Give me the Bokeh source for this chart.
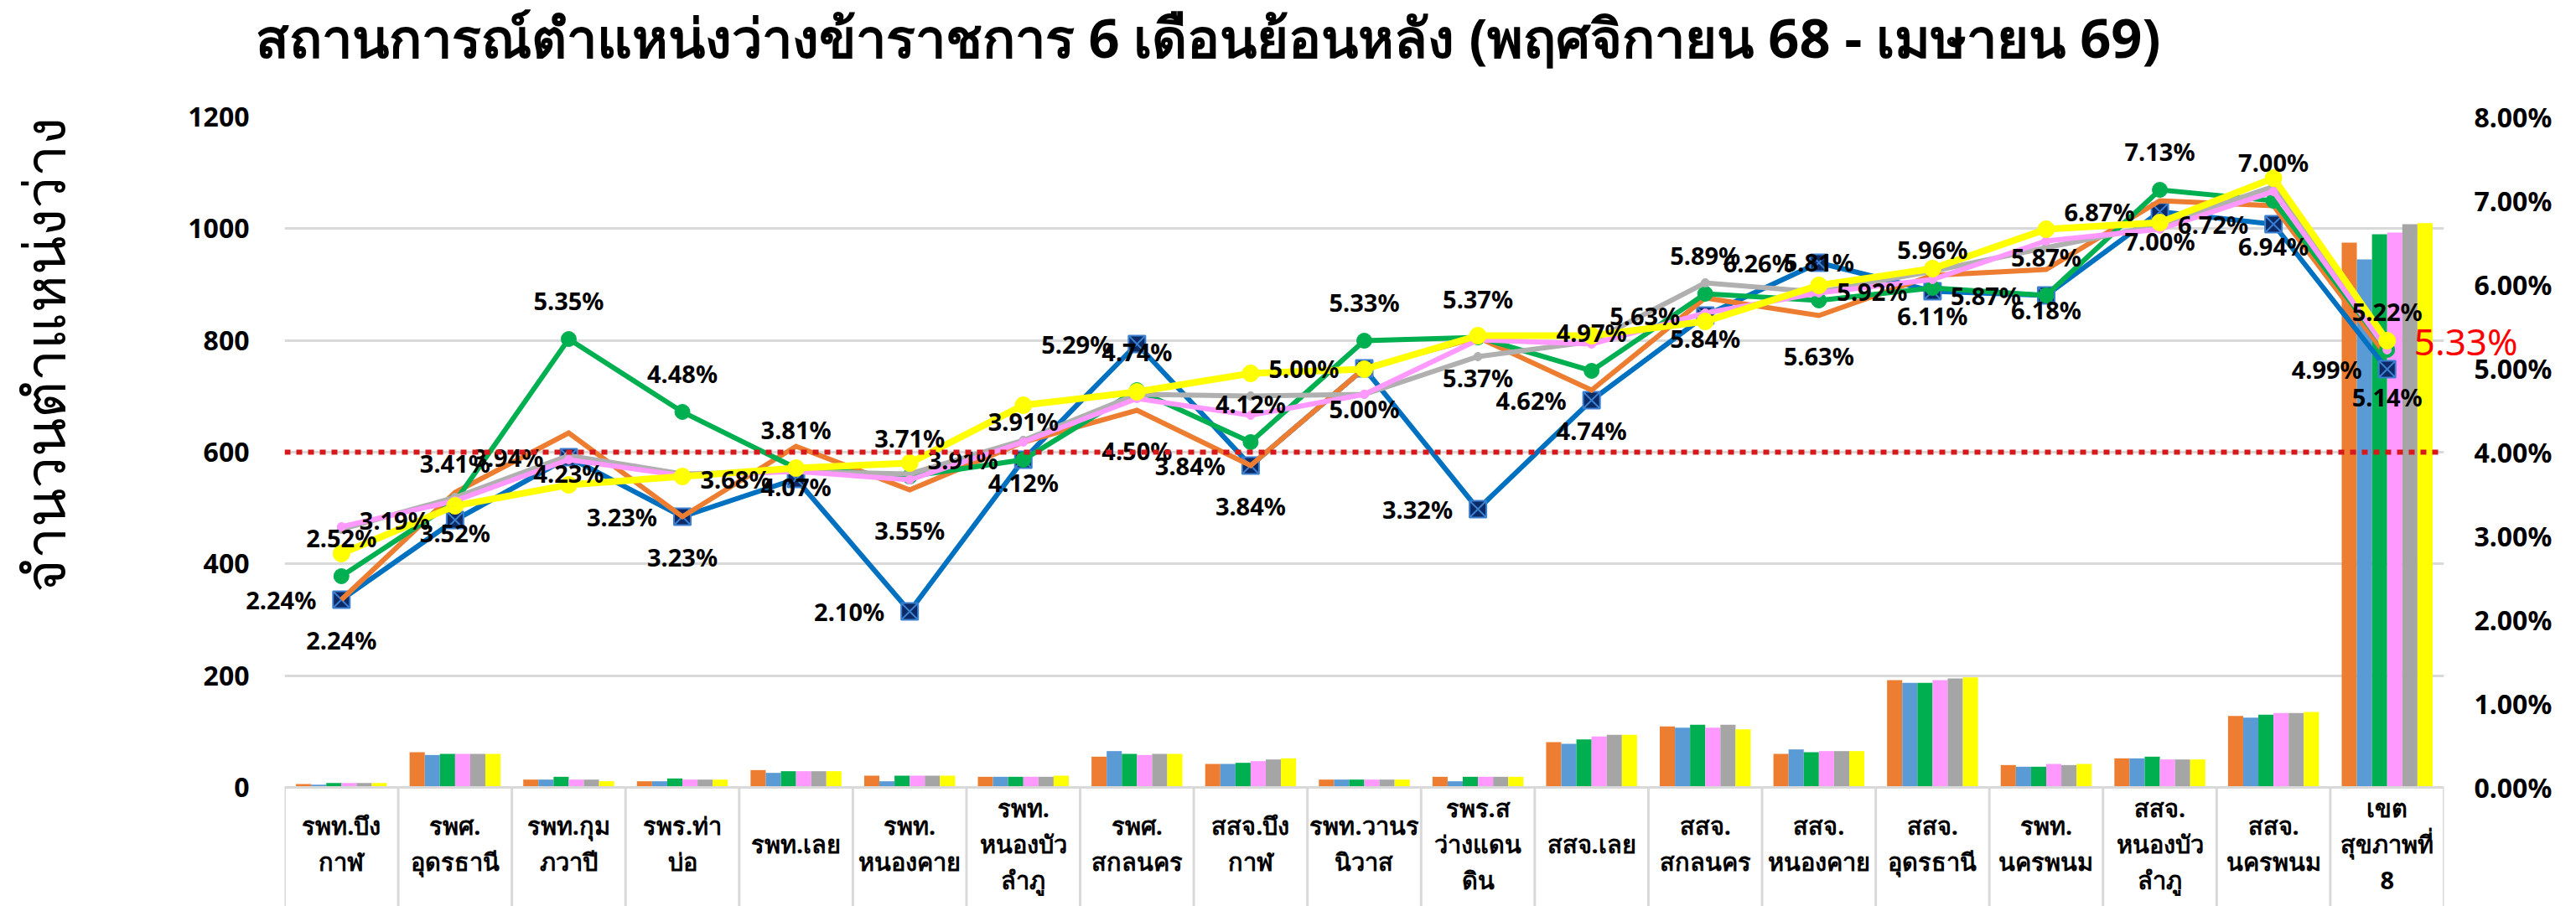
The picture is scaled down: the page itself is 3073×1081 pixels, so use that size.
from bokeh.plotting import figure
from bokeh.models import (Range1d, LinearAxis, FixedTicker, LabelSet,
                          PrintfTickFormatter, Span, Label, Title, ColumnDataSource)
from bokeh.transform import dodge
from bokeh.core.properties import value
from bokeh.embed import file_html
from bokeh.resources import INLINE

# ---------------- data ----------------
categories = ["รพท.บึงกาฬ", "รพศ.อุดรธานี", "รพท.กุมภวาปี", "รพร.ท่าบ่อ", "รพท.เลย",
              "รพท.หนองคาย", "รพท.หนองบัวลำภู", "รพศ.สกลนคร", "สสจ.บึงกาฬ",
              "รพท.วานรนิวาส", "รพร.สว่างแดนดิน", "สสจ.เลย", "สสจ.สกลนคร",
              "สสจ.หนองคาย", "สสจ.อุดรธานี", "รพท.นครพนม", "สสจ.หนองบัวลำภู",
              "สสจ.นครพนม", "เขตสุขภาพที่ 8"]
category_labels = ["รพท.บึง\nกาฬ", "รพศ.\nอุดรธานี", "รพท.กุม\nภวาปี", "รพร.ท่า\nบ่อ",
                   "รพท.เลย", "รพท.\nหนองคาย", "รพท.\nหนองบัว\nลำภู", "รพศ.\nสกลนคร",
                   "สสจ.บึง\nกาฬ", "รพท.วานร\nนิวาส", "รพร.ส\nว่างแดน\nดิน", "สสจ.เลย",
                   "สสจ.\nสกลนคร", "สสจ.\nหนองคาย", "สสจ.\nอุดรธานี", "รพท.\nนครพนม",
                   "สสจ.\nหนองบัว\nลำภู", "สสจ.\nนครพนม", "เขต\nสุขภาพที่\n8"]

# vacancies (bars, left axis)
bar_orange = [6, 63, 14, 11, 31, 21, 19, 55, 42, 14, 19, 81, 109, 60, 192, 40, 52, 128, 975]
bar_blue   = [5, 58, 14, 11, 26, 11, 19, 65, 42, 14, 11, 78, 107, 68, 187, 37, 52, 125, 945]
bar_green  = [8, 60, 19, 16, 29, 21, 19, 60, 44, 14, 19, 86, 112, 63, 187, 37, 55, 130, 990]
bar_pink   = [8, 60, 14, 14, 29, 21, 19, 58, 47, 14, 19, 91, 107, 65, 192, 42, 50, 133, 993]
bar_grey   = [8, 60, 14, 14, 29, 21, 19, 60, 50, 14, 19, 94, 112, 65, 195, 40, 50, 133, 1008]
bar_yellow = [8, 60, 11, 14, 29, 21, 21, 60, 52, 14, 19, 94, 104, 65, 197, 42, 50, 135, 1010]

# vacancy rate % (lines, right axis)
pct_blue   = [2.24, 3.19, 3.94, 3.23, 3.68, 2.10, 3.91, 5.29, 3.84, 5.00, 3.32, 4.62, 5.63, 6.26, 5.92, 5.87, 6.87, 6.72, 4.99]
pct_orange = [2.24, 3.52, 4.23, 3.23, 4.07, 3.55, 4.12, 4.50, 3.84, 5.00, 5.37, 4.74, 5.84, 5.63, 6.11, 6.18, 7.00, 6.94, 5.14]
pct_green  = [2.52, 3.41, 5.35, 4.48, 3.81, 3.71, 3.91, 4.74, 4.12, 5.33, 5.37, 4.97, 5.89, 5.81, 5.96, 5.87, 7.13, 7.00, 5.22]
pct_grey   = [3.08, 3.46, 3.96, 3.74, 3.77, 3.74, 4.14, 4.69, 4.67, 4.69, 5.14, 5.32, 6.02, 5.91, 6.16, 6.44, 6.71, 7.17, 5.25]
pct_pink   = [3.11, 3.42, 3.91, 3.72, 3.77, 3.67, 4.12, 4.64, 4.44, 4.69, 5.34, 5.29, 5.66, 5.90, 6.06, 6.52, 6.66, 7.11, 5.22]
pct_yellow = [2.79, 3.36, 3.61, 3.71, 3.81, 3.87, 4.56, 4.72, 4.94, 4.99, 5.39, 5.39, 5.56, 5.99, 6.19, 6.66, 6.74, 7.27, 5.33]

target_pct = 4.0
left_ticks = [0, 200, 400, 600, 800, 1000, 1200]
right_ticks = [0, 1, 2, 3, 4, 5, 6, 7, 8]

title_text = "สถานการณ์ตำแหน่งว่างข้าราชการ 6 เดือนย้อนหลัง (พฤศจิกายน 68 - เมษายน 69)"
y_title = "จำนวนตำแหน่งว่าง"

# ---------------- styling ----------------
FONT = "Noto Sans"
Y_MAX = 1200
Y_MIN = -213          # room for the category table under the axis
P_MAX = 8.0
P_MIN = Y_MIN * P_MAX / Y_MAX
N = len(categories)

def fmt(v):
    return "%.2f%%" % v

# category slot i is centred at i + 0.5 on the x scale
xc = [i + 0.5 for i in range(N)]

src = ColumnDataSource(dict(
    x=xc, cat=categories, lab=category_labels,
    b_or=bar_orange, b_bl=bar_blue, b_gr=bar_green, b_pk=bar_pink, b_gy=bar_grey, b_ye=bar_yellow,
    p_bl=pct_blue, p_or=pct_orange, p_gr=pct_green, p_gy=pct_grey, p_pk=pct_pink, p_ye=pct_yellow,
    t_or=[fmt(v) for v in pct_orange], t_gr=[fmt(v) for v in pct_green],
    lab_y=[Y_MIN * 0.47] * N,
))
# blue labels sit left of their points; the first one is drawn separately (it crosses the plot edge)
blue_src = ColumnDataSource(dict(x=xc[1:], y=pct_blue[1:], t=[fmt(v) for v in pct_blue[1:]]))
sep_src = ColumnDataSource(dict(x=list(range(N + 1)), y0=[0] * (N + 1), y1=[Y_MIN] * (N + 1)))

p = figure(width=3073, height=1081, x_range=Range1d(0, N),
           y_range=Range1d(Y_MIN, Y_MAX), output_backend="svg", toolbar_location=None,
           x_axis_location=None, min_border_left=339, min_border_right=158,
           min_border_top=139, min_border_bottom=0)
p.extra_y_ranges = {"pct": Range1d(P_MIN, P_MAX)}
p.outline_line_color = None
p.background_fill_color = "white"
p.border_fill_color = "white"
p.xgrid.visible = False

lt = FixedTicker(ticks=left_ticks)
p.yaxis.ticker = lt
p.ygrid.ticker = lt
p.ygrid.grid_line_color = "#D9D9D9"
p.ygrid.grid_line_width = 3
for ax in p.yaxis:
    ax.axis_line_color = None
    ax.major_tick_line_color = None
    ax.minor_tick_line_color = None
    ax.major_label_text_font = FONT
    ax.major_label_text_font_style = "bold"
    ax.major_label_text_font_size = "32px"
    ax.major_label_text_color = "black"
    ax.major_label_standoff = 36

rax = LinearAxis(y_range_name="pct", ticker=FixedTicker(ticks=right_ticks),
                 formatter=PrintfTickFormatter(format="%.2f%%"))
rax.axis_line_color = None
rax.major_tick_line_color = None
rax.minor_tick_line_color = None
rax.major_label_text_font = FONT
rax.major_label_text_font_style = "bold"
rax.major_label_text_font_size = "32px"
rax.major_label_text_color = "black"
rax.major_label_standoff = 30
p.add_layout(rax, "right")

# main title (a label in the top panel, left edge slightly left of the plot area)
p.add_layout(Label(x=0, y=Y_MAX * 1.12, x_offset=-35, text=title_text, text_font=FONT,
                   text_font_size="65px", text_font_style="bold", text_color="black",
                   text_align="left", text_baseline="middle"), "above")

# bars
bar_keys = ["b_or", "b_bl", "b_gr", "b_pk", "b_gy", "b_ye"]
bar_cols = ["#ED7D31", "#5B9BD5", "#00B050", "#FF99FF", "#A5A5A5", "#FFFF00"]
bw = 0.8 / 6
for i, (k, c) in enumerate(zip(bar_keys, bar_cols)):
    off = (i - 2.5) * bw
    p.vbar(x=dodge("x", off), top=k, width=bw, bottom=0,
           source=src, fill_color=c, line_color=None)

# category table separators
p.segment(x0="x", y0="y0", x1="x", y1="y1", source=sep_src, line_color="#D9D9D9", line_width=3)
# baseline
p.add_layout(Span(location=0, dimension="width", line_color="#D9D9D9", line_width=3, level="glyph"))

# target line 4%
p.add_layout(Span(location=target_pct, dimension="width", y_range_name="pct",
                  line_color="#D7191C", line_width=6, line_dash="7 7", level="glyph"))

# category labels
p.text(x="x", y="lab_y", text="lab", source=src, text_align="center",
       text_baseline="middle", text_font=value(FONT), text_font_style="bold",
       text_font_size="29px", text_color="black", text_line_height=1.1)

# lines
line_specs = [
    ("p_bl", "#0070C0", 6, None),
    ("p_or", "#ED7D31", 6, None),
    ("p_gr", "#00B050", 6, "circle"),
    ("p_gy", "#B0B0B0", 6, "circle_small"),
    ("p_pk", "#FF99FF", 6, "circle_small"),
    ("p_ye", "#FFFF00", 8, "circle"),
]
for k, c, w, m in line_specs:
    p.line(x="x", y=k, source=src, y_range_name="pct", line_color=c, line_width=w,
           line_join="miter")
    if k == "p_bl":
        p.scatter(x="x", y=k, source=src, y_range_name="pct", marker="square_x", size=20,
                  fill_color="#0B2A66", line_color="#3A7FD0", line_width=2)
    elif m == "circle":
        p.scatter(x="x", y=k, source=src, y_range_name="pct", marker="circle",
                  size=20 if k == "p_ye" else 18, fill_color=c, line_color=c)
    elif m == "circle_small":
        p.scatter(x="x", y=k, source=src, y_range_name="pct", marker="circle", size=10,
                  fill_color=c, line_color=c)

# data labels: green (above), orange (below), blue (left)
lab_kw = dict(y_range_name="pct", text_font=value(FONT), text_font_style="bold",
              text_font_size="29px", text_color="black", text_baseline="middle")
p.text(x="x", y="p_gr", text="t_gr", source=src, text_align="center", y_offset=-46, **lab_kw)
p.text(x="x", y="p_or", text="t_or", source=src, text_align="center", y_offset=48, **lab_kw)
p.text(x="x", y="y", text="t", source=blue_src, text_align="right", x_offset=-30, **lab_kw)
# first blue label reaches past the plot's left edge: drawn as an unclipped label
p.add_layout(Label(x=xc[0], y=pct_blue[0], y_range_name="pct", x_offset=-30,
                   text=fmt(pct_blue[0]), text_font=FONT, text_font_style="bold",
                   text_font_size="29px", text_color="black", text_align="right",
                   text_baseline="middle"), "above")

# red label for the region (last point of the latest month), reaching past the plot edge
p.add_layout(Label(x=xc[-1], y=pct_yellow[-1], y_range_name="pct",
                   x_offset=32, text=fmt(pct_yellow[-1]), text_font=FONT, text_font_size="44px",
                   text_color="#FF0000", text_align="left", text_baseline="middle"), "left")

# vertical axis title, outermost on the left
yt = Title(text=y_title, align="right", text_font=FONT, text_font_size="68px",
           text_font_style="normal", text_color="black", standoff=0)
p.add_layout(yt, "left")

open("out.html", "w").write(file_html(p, INLINE))
